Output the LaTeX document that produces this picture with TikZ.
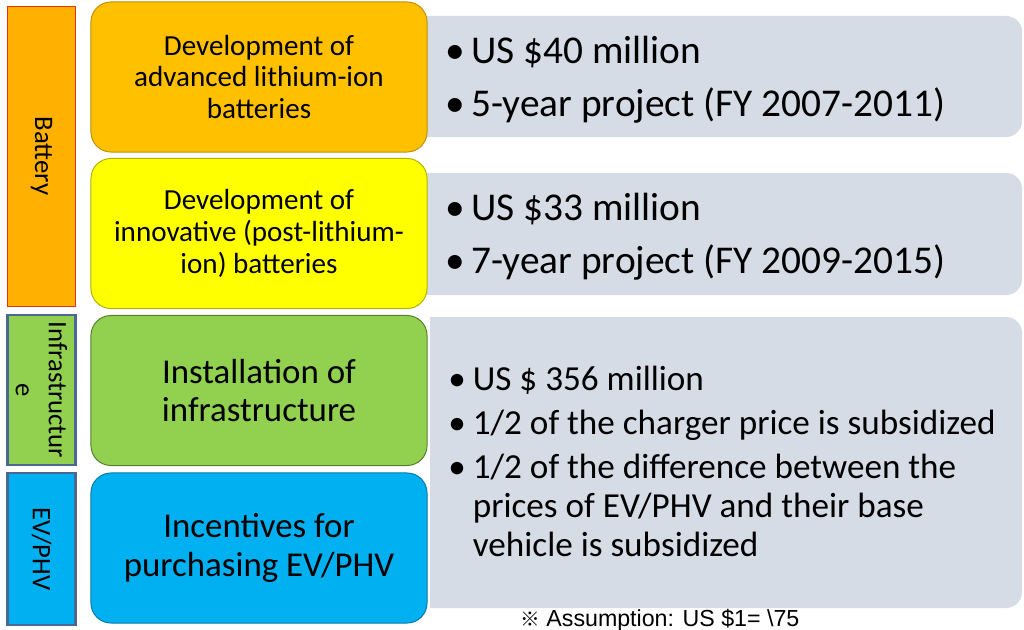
\documentclass[tikz,border=0pt]{standalone}
\usepackage{fontspec}
\setmainfont{Carlito}
\newfontfamily\notefont{Liberation Sans}
\newfontfamily\cjk{Noto Sans CJK JP}
\usepackage{xcolor}
\usetikzlibrary{positioning}

\definecolor{batorange}{HTML}{FFB000}
\definecolor{boxorange}{HTML}{FFC000}
\definecolor{boxyellow}{HTML}{FFFF00}
\definecolor{boxgreen}{HTML}{92D050}
\definecolor{boxblue}{HTML}{00B0F0}
\definecolor{panelgrey}{HTML}{D6DCE6}
\definecolor{barline}{HTML}{4A6894}

\tikzset{
  sidebar/.style={draw, line width=2pt, minimum width=17mm, inner sep=0pt},
  sidetext/.style={rotate=-90, align=center, inner sep=0pt, font=\fontsize{19}{23.5}\selectfont},
  topic/.style={draw, line width=0.7pt, rounded corners=5mm, minimum width=84mm, minimum height=37.5mm,
    align=center, inner sep=0pt},
  panel/.style={fill=panelgrey, rounded corners=4mm, minimum width=153mm, inner sep=0pt},
  bullets/.style={align=left, inner sep=0pt},
}

\begin{document}
\begin{tikzpicture}[x=0.025cm, y=-0.025cm]
    \useasboundingbox (0,0) rectangle (1024,630);

    % grey detail panels (behind the topic boxes)
    \node[panel, minimum height=30.25mm] (pan1) at (716,76.5) {};
    \node[panel, minimum height=30.5mm] (pan2) at (716,234) {};
    \fill[panelgrey] (430,608) -- (430,317) [rounded corners=4mm] -- (1022,317) -- (1022,608) [sharp corners] -- cycle;
    \coordinate (pan3) at (430,466);

    % side bars
    \node[sidebar, fill=batorange, draw=red!60!brown, line width=0.6pt, minimum height=75mm] (bat) at (41.5,156) {};
    \node[sidebar, fill=boxgreen, draw=barline, minimum height=37.5mm] (inf) at (41.5,390) {};
    \node[sidebar, fill=boxblue, draw=barline, minimum height=38mm] (ev) at (41.5,549) {};
    \node[sidetext] (batlbl) at (bat) {Battery};
    \node[sidetext] (inflbl) at (inf) {Infrastructur\\e};
    \node[sidetext] (evlbl) at (ev) {EV/PHV};

    % topic boxes
    \node[topic, fill=boxorange, draw=boxorange!75!black, font=\fontsize{20.7}{22.5}\selectfont] (t1) at (259,77)
        {Development of\\advanced lithium-ion\\batteries};
    \node[topic, fill=boxyellow, draw=boxyellow!70!black, font=\fontsize{20.7}{22.5}\selectfont] (t2) at (259,233.5)
        {Development of\\innovative (post-lithium-\\ion) batteries};
    \node[topic, fill=boxgreen, draw=boxgreen!60!black, font=\fontsize{24.8}{26.5}\selectfont] (t3) at (259,390.5)
        {Installation of\\infrastructure};
    \node[topic, fill=boxblue, draw=boxblue!70!black, font=\fontsize{24.8}{27.5}\selectfont] (t4) at (259,548)
        {Incentives for\\purchasing EV/PHV};

    % details
    \node[bullets, right=9mm of pan1.west, yshift=-0.75mm, font=\fontsize{28}{37.7}\selectfont] (d1)
        {\textbullet\hspace{4pt}US \$40 million\\\textbullet\hspace{4pt}5-year project (FY 2007-2011)};
    \node[bullets, right=9mm of pan2.west, yshift=-0.75mm, font=\fontsize{28}{37.7}\selectfont] (d2)
        {\textbullet\hspace{4pt}US \$33 million\\\textbullet\hspace{4pt}7-year project (FY 2009-2015)};
    \node[bullets, right=4.5mm of pan3, font=\fontsize{25}{27.7}\selectfont] (d3)
        {\begin{tabular}{@{}l@{\hspace{5pt}}l@{}}
          \textbullet & US \$ 356 million\\[3.5pt]
          \textbullet & 1/2 of the charger price is subsidized\\[3.5pt]
          \textbullet & 1/2 of the difference between the\\
                      & prices of EV/PHV and their base\\
                      & vehicle is subsidized
        \end{tabular}};

    % note
    \node[anchor=base west, inner sep=0pt, font=\notefont\fontsize{16.5}{18}\selectfont] (note) at (520,626)
        {{\cjk\fontsize{14}{16}\selectfont ※} Assumption: US \$1= \textbackslash 75};
\end{tikzpicture}
\end{document}
